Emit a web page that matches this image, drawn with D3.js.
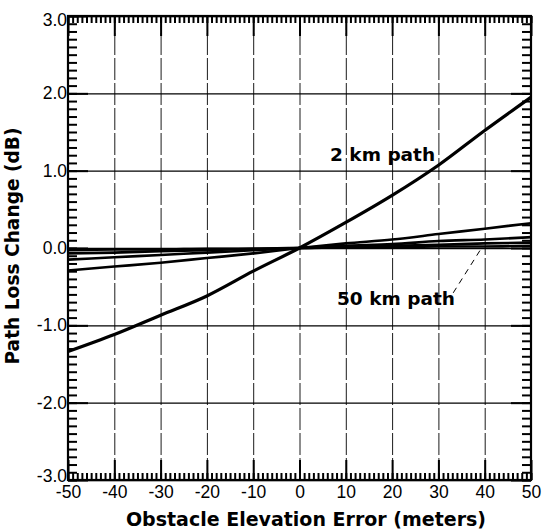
<!DOCTYPE html>
<html>
<head>
<meta charset="utf-8">
<script src="https://cdn.jsdelivr.net/npm/d3@7"></script>
<style>
  body { margin: 0; background: #fff; }
  svg { font-family: "DejaVu Sans", "Liberation Sans", Arial, sans-serif; }
  .grid line { stroke: #000; }
  .grid path { display: none; }
  .vgrid line { stroke-width: 0.9; stroke-dasharray: 22,3; }
  .hgrid line { stroke-width: 1.4; }
  .minor path { display: none; }
  .minor line { stroke: #000; stroke-width: 2; }
  .labels path { display: none; }
  .labels text { font-size: 17.5px; fill: #000; }
</style>
</head>
<body>
<div id="chart"></div>
<script>
// obstacle elevation error (m)
var elevError = [-50, -40, -30, -20, -10, 0, 10, 20, 30, 40, 50];

// path loss change (dB) per path length
var path2km  = [-1.34, -1.12, -0.87, -0.62, -0.30, 0, 0.33, 0.68, 1.07, 1.52, 1.95];
var path5km  = [-0.29, -0.24, -0.19, -0.13, -0.07, 0, 0.06, 0.11, 0.18, 0.25, 0.32];
var path10km = [-0.15, -0.12, -0.09, -0.06, -0.03, 0, 0.03, 0.05, 0.09, 0.11, 0.14];
var path20km = [-0.07, -0.06, -0.04, -0.03, -0.01, 0, 0.01, 0.03, 0.04, 0.06, 0.07];
var path50km = [-0.03, -0.02, -0.02, -0.01, -0.01, 0, 0.01, 0.01, 0.02, 0.02, 0.03];

var seriesList = [path2km, path5km, path10km, path20km, path50km];
var strokeWidths = [3.2, 2.6, 2.6, 2.6, 2.6];

var xMajorTicks = [-50, -40, -30, -20, -10, 0, 10, 20, 30, 40, 50];
var yMajorTicks = [-3, -2, -1, 0, 1, 2, 3];

// annotations, in data units
var labels = [
    { text: "2 km path", x: 6.6, y: 1.13 },
    { text: "50 km path", x: 8.1, y: -0.74 }
];
var leader = [[33.2, -0.58], [39.0, -0.03]];

var svgWidth = 542, svgHeight = 530;
var margin = { left: 68, top: 16, right: 11, bottom: 50 };
var width = svgWidth - margin.left - margin.right;
var height = svgHeight - margin.top - margin.bottom;

var svg = d3.select("#chart").append("svg")
    .attr("width", svgWidth)
    .attr("height", svgHeight);

var g = svg.append("g")
    .attr("transform", "translate(" + margin.left + "," + margin.top + ")");

var x = d3.scaleLinear().domain([-50, 50]).range([0, width]);
var y = d3.scaleLinear().domain([-3, 3]).range([height, 0]);

var xMinor = d3.range(-50, 50.5, 1);
var yMinor = d3.range(-30, 30.5, 1).map(function(d) { return d / 10; });

// vertical grid (dashed)
g.append("g")
    .attr("class", "grid vgrid")
    .attr("transform", "translate(0," + height + ")")
    .call(d3.axisBottom(x).tickValues(xMajorTicks).tickSize(-height).tickFormat(""));

// horizontal grid
g.append("g")
    .attr("class", "grid hgrid")
    .call(d3.axisLeft(y).tickValues(yMajorTicks).tickSize(-width).tickFormat(""));

// minor ticks, pointing inward on all four sides
g.append("g").attr("class", "minor")
    .call(d3.axisLeft(y).tickValues(yMinor).tickSize(-9).tickFormat(""));
g.append("g").attr("class", "minor")
    .attr("transform", "translate(" + width + ",0)")
    .call(d3.axisRight(y).tickValues(yMinor).tickSize(-9).tickFormat(""));
g.append("g").attr("class", "minor")
    .call(d3.axisTop(x).tickValues(xMinor).tickSize(-7).tickFormat(""));
g.append("g").attr("class", "minor")
    .attr("transform", "translate(0," + height + ")")
    .call(d3.axisBottom(x).tickValues(xMinor).tickSize(-7).tickFormat(""));

// major ticks, longer
g.append("g").attr("class", "minor")
    .call(d3.axisTop(x).tickValues(xMajorTicks).tickSize(-20).tickFormat(""));
g.append("g").attr("class", "minor")
    .attr("transform", "translate(0," + height + ")")
    .call(d3.axisBottom(x).tickValues(xMajorTicks).tickSize(-20).tickFormat(""));
g.append("g").attr("class", "minor")
    .call(d3.axisLeft(y).tickValues(yMajorTicks).tickSize(-20).tickFormat(""));
g.append("g").attr("class", "minor")
    .attr("transform", "translate(" + width + ",0)")
    .call(d3.axisRight(y).tickValues(yMajorTicks).tickSize(-20).tickFormat(""));

// frame
g.append("rect")
    .attr("width", width)
    .attr("height", height)
    .attr("fill", "none")
    .attr("stroke", "#000")
    .attr("stroke-width", 2.2);

// tick labels
var yLabels = g.append("g").attr("class", "labels")
    .call(d3.axisLeft(y).tickValues(yMajorTicks).tickSize(0).tickPadding(1)
        .tickFormat(function(d) { return d.toFixed(1); }));
// end labels sit a little inside the frame
yLabels.selectAll(".tick text")
    .attr("y", function(d) { return d === 3 ? 4 : (d === -3 ? -4 : 0); });

g.append("g").attr("class", "labels")
    .attr("transform", "translate(0," + height + ")")
    .call(d3.axisBottom(x).tickValues(xMajorTicks).tickSize(0).tickPadding(6)
        .tickFormat(function(d) { return String(d); }));

// curves
var line = d3.line()
    .x(function(d) { return x(d[0]); })
    .y(function(d) { return y(d[1]); })
    .curve(d3.curveMonotoneX);

seriesList.forEach(function(vals, i) {
    g.append("path")
        .datum(d3.zip(elevError, vals))
        .attr("fill", "none")
        .attr("stroke", "#000")
        .attr("stroke-width", strokeWidths[i])
        .attr("d", line);
});

// leader line for the 50 km label
g.append("line")
    .attr("x1", x(leader[0][0])).attr("y1", y(leader[0][1]))
    .attr("x2", x(leader[1][0])).attr("y2", y(leader[1][1]))
    .attr("stroke", "#000")
    .attr("stroke-width", 1)
    .attr("stroke-dasharray", "6,5");

g.selectAll(".annot").data(labels).enter().append("text")
    .attr("class", "annot")
    .attr("x", function(d) { return x(d.x); })
    .attr("y", function(d) { return y(d.y); })
    .attr("font-size", "18.5px")
    .attr("font-weight", "bold")
    .text(function(d) { return d.text; });

// axis titles
svg.append("text")
    .attr("x", 306)
    .attr("y", 526)
    .attr("text-anchor", "middle")
    .attr("font-size", "19px")
    .attr("font-weight", "bold")
    .text("Obstacle Elevation Error (meters)");

svg.append("text")
    .attr("transform", "translate(19,246) rotate(-90)")
    .attr("text-anchor", "middle")
    .attr("font-size", "18.6px")
    .attr("font-weight", "bold")
    .text("Path Loss Change (dB)");
</script>
</body>
</html>
